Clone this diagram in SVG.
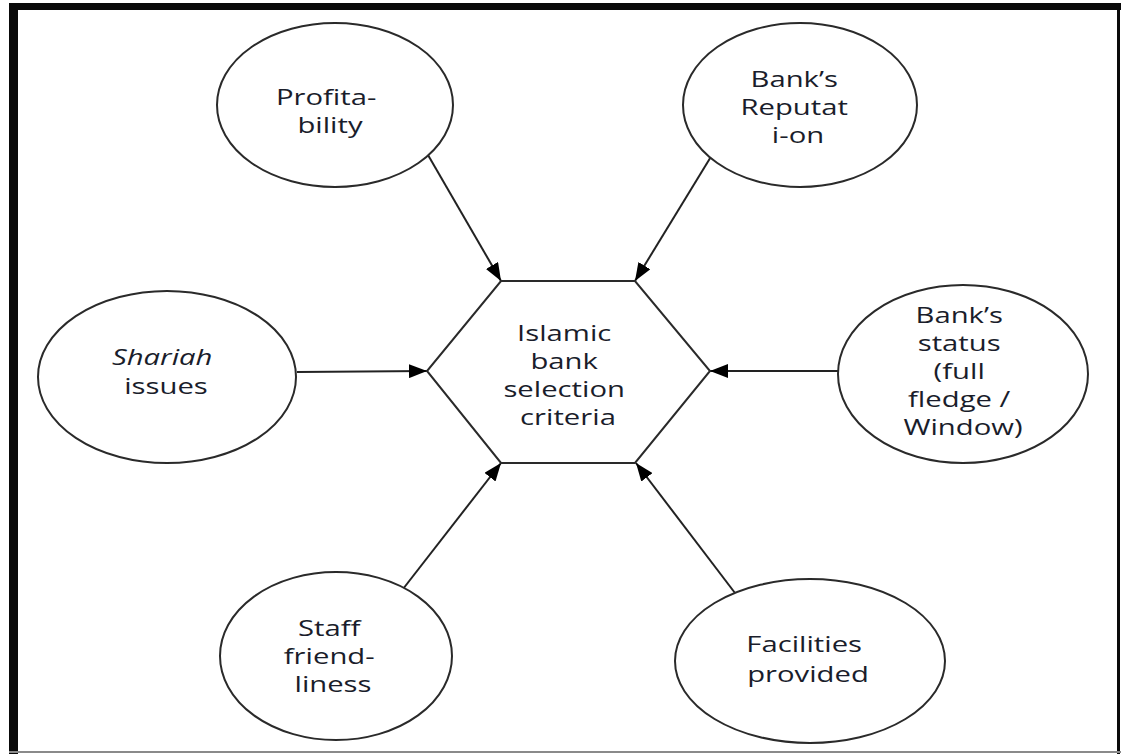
<svg xmlns="http://www.w3.org/2000/svg" width="1123" height="754" viewBox="0 0 1123 754">
  <style>
    .node { fill: #ffffff; stroke: #2a2a2a; stroke-width: 2; }
    .t { font-family: "Open Sans", "Liberation Sans", sans-serif; font-size: 22px; fill: #1a1d2b; text-anchor: middle; }
    .it { font-style: italic; }
    .conn { stroke: #222222; stroke-width: 2; fill: none; marker-end: url(#arrow); }
  </style>
  <defs>
    <marker id="arrow" viewBox="0 0 18 14" refX="18" refY="7" markerWidth="18" markerHeight="14" markerUnits="userSpaceOnUse" orient="auto">
      <path d="M0,0 L18,7 L0,14 z" fill="#000000"/>
    </marker>
  </defs>
  <rect x="0" y="0" width="1123" height="754" fill="#ffffff"/>
  <g id="frame">
    <rect x="9" y="3" width="9" height="751" fill="#0a0a0a"/>
    <rect x="9" y="3" width="1112" height="7" fill="#0a0a0a"/>
    <rect x="1117" y="3" width="3" height="751" fill="#0a0a0a"/>
    <rect x="9" y="751" width="1112" height="2" fill="#8a8a8a"/>
  </g>
  <g id="connectors">
    <line class="conn" x1="428" y1="155" x2="501" y2="281"/>
    <line class="conn" x1="712" y1="155" x2="635" y2="281"/>
    <line class="conn" x1="297" y1="372" x2="427" y2="371"/>
    <line class="conn" x1="838" y1="371" x2="710" y2="371"/>
    <line class="conn" x1="403" y1="589" x2="501" y2="463"/>
    <line class="conn" x1="735" y1="593" x2="636" y2="463"/>
  </g>
  <g id="center">
    <polygon class="node" points="501,281 635,281 710,371 635,463 501,463 427,371"/>
    <text class="t" transform="translate(568 0) scale(1.33 1)">
      <tspan x="0" y="341">Islamic</tspan>
      <tspan x="0" y="369">bank</tspan>
      <tspan x="0" y="397">selection</tspan>
      <tspan x="0" y="425">criteria</tspan>
    </text>
  </g>
  <g id="profitability">
    <ellipse class="node" cx="335" cy="105" rx="118" ry="82"/>
    <text class="t" transform="translate(330 0) scale(1.33 1)">
      <tspan x="0" y="105">Profita-</tspan>
      <tspan x="0" y="133">bility</tspan>
    </text>
  </g>
  <g id="reputation">
    <ellipse class="node" cx="800" cy="105" rx="117" ry="82"/>
    <text class="t" transform="translate(798 0) scale(1.33 1)">
      <tspan x="0" y="87">Bank’s</tspan>
      <tspan x="0" y="115">Reputat</tspan>
      <tspan x="0" y="143">i-on</tspan>
    </text>
  </g>
  <g id="shariah">
    <ellipse class="node" cx="167" cy="377" rx="129" ry="86"/>
    <text class="t" transform="translate(166 0) scale(1.33 1)">
      <tspan x="0" y="365" class="it">Shariah</tspan>
      <tspan x="0" y="394">issues</tspan>
    </text>
  </g>
  <g id="status">
    <ellipse class="node" cx="963" cy="374" rx="125" ry="89"/>
    <text class="t" transform="translate(963 0) scale(1.33 1)">
      <tspan x="0" y="323">Bank’s</tspan>
      <tspan x="0" y="351">status</tspan>
      <tspan x="0" y="379">(full</tspan>
      <tspan x="0" y="407">fledge /</tspan>
      <tspan x="0" y="435">Window)</tspan>
    </text>
  </g>
  <g id="staff">
    <ellipse class="node" cx="336" cy="656" rx="116" ry="84"/>
    <text class="t" transform="translate(333 0) scale(1.33 1)">
      <tspan x="0" y="636">Staff</tspan>
      <tspan x="0" y="664">friend-</tspan>
      <tspan x="0" y="692">liness</tspan>
    </text>
  </g>
  <g id="facilities">
    <ellipse class="node" cx="810" cy="661" rx="135" ry="82"/>
    <text class="t" transform="translate(808 0) scale(1.33 1)">
      <tspan x="0" y="652">Facilities</tspan>
      <tspan x="0" y="682">provided</tspan>
    </text>
  </g>
</svg>
